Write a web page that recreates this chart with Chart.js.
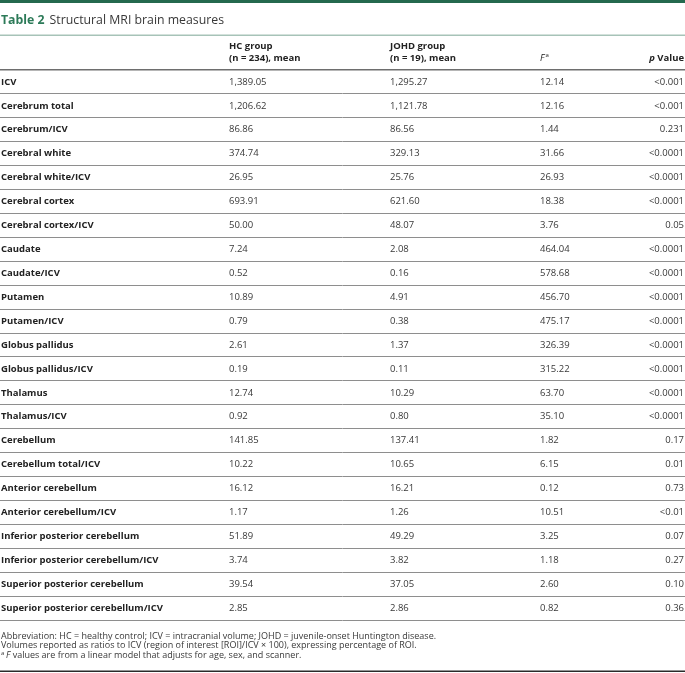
<!DOCTYPE html>
<html>
<head>
<meta charset="utf-8">
<title>Structural MRI brain measures</title>
<script src="https://cdn.jsdelivr.net/npm/chart.js@4.4.1/dist/chart.umd.min.js"></script>
<style>
  html, body { margin: 0; padding: 0; background: #fff; }
  canvas { display: block; }
</style>
</head>
<body>
<canvas id="tableChart" width="685" height="673"></canvas>
<script>
// table data
const rowLabels = [
    'ICV', 'Cerebrum total', 'Cerebrum/ICV', 'Cerebral white', 'Cerebral white/ICV',
    'Cerebral cortex', 'Cerebral cortex/ICV', 'Caudate', 'Caudate/ICV', 'Putamen',
    'Putamen/ICV', 'Globus pallidus', 'Globus pallidus/ICV', 'Thalamus', 'Thalamus/ICV',
    'Cerebellum', 'Cerebellum total/ICV', 'Anterior cerebellum', 'Anterior cerebellum/ICV',
    'Inferior posterior cerebellum', 'Inferior posterior cerebellum/ICV',
    'Superior posterior cerebellum', 'Superior posterior cerebellum/ICV'
];
const hcMean = [1389.05, 1206.62, 86.86, 374.74, 26.95, 693.91, 50.00, 7.24, 0.52, 10.89,
    0.79, 2.61, 0.19, 12.74, 0.92, 141.85, 10.22, 16.12, 1.17, 51.89, 3.74, 39.54, 2.85];
const johdMean = [1295.27, 1121.78, 86.56, 329.13, 25.76, 621.60, 48.07, 2.08, 0.16, 4.91,
    0.38, 1.37, 0.11, 10.29, 0.80, 137.41, 10.65, 16.21, 1.26, 49.29, 3.82, 37.05, 2.86];
const fValues = [12.14, 12.16, 1.44, 31.66, 26.93, 18.38, 3.76, 464.04, 578.68, 456.70,
    475.17, 326.39, 315.22, 63.70, 35.10, 1.82, 6.15, 0.12, 10.51, 3.25, 1.18, 2.60, 0.82];
const pValues = ['<0.001', '<0.001', '0.231', '<0.0001', '<0.0001', '<0.0001', '0.05',
    '<0.0001', '<0.0001', '<0.0001', '<0.0001', '<0.0001', '<0.0001', '<0.0001', '<0.0001',
    '0.17', '0.01', '0.73', '<0.01', '0.07', '0.27', '0.10', '0.36'];

// column anchors on the x scale (layout only)
const colX = { label: 1, hc: 229, johd: 390, f: 540, p: 684 };

const FONT = '"Open Sans", "DejaVu Sans", sans-serif';
const TEXT = '#383838';
const GREEN = '#2c7a58';

const fmt2 = v => v.toLocaleString('en-US', { minimumFractionDigits: 2, maximumFractionDigits: 2 });

function column(x, texts, opts) {
    return {
        data: texts.map((t, i) => ({ x: x, y: i })),
        texts: texts,
        cell: opts,
        pointRadius: 0,
        pointHoverRadius: 0
    };
}

const tablePlugin = {
    id: 'tableText',
    beforeDraw(chart) {
        const ctx = chart.ctx;
        ctx.save();
        ctx.fillStyle = '#fff';
        ctx.fillRect(0, 0, chart.width, chart.height);
        // top band + title
        ctx.fillStyle = '#24694e';
        ctx.fillRect(0, 0, chart.width, 3);
        ctx.textBaseline = 'middle';
        ctx.font = 'bold 12.3px ' + FONT;
        ctx.fillStyle = GREEN;
        ctx.fillText('Table 2', 1, 20);
        const w = ctx.measureText('Table 2').width;
        ctx.font = '12.3px ' + FONT;
        ctx.fillStyle = TEXT;
        ctx.fillText('Structural MRI brain measures', 1 + w + 5, 20);
        ctx.fillStyle = '#a7c3b8';
        ctx.fillRect(0, 34.5, chart.width, 1.5);
        ctx.restore();
    },
    afterDatasetsDraw(chart) {
        const ctx = chart.ctx;
        const x = chart.scales.x;
        ctx.save();
        ctx.textBaseline = 'middle';

        // header
        ctx.fillStyle = '#222';
        ctx.font = 'bold 9.5px ' + FONT;
        ctx.textAlign = 'left';
        ctx.fillText('HC group', x.getPixelForValue(colX.hc), 46);
        ctx.fillText('(n = 234), mean', x.getPixelForValue(colX.hc), 58);
        ctx.fillText('JOHD group', x.getPixelForValue(colX.johd), 46);
        ctx.fillText('(n = 19), mean', x.getPixelForValue(colX.johd), 58);
        ctx.font = 'italic 9.5px ' + FONT;
        ctx.fillText('F', x.getPixelForValue(colX.f), 58);
        const fw = ctx.measureText('F').width;
        ctx.font = '6px ' + FONT;
        ctx.fillText('a', x.getPixelForValue(colX.f) + fw + 1, 55);
        ctx.textAlign = 'right';
        ctx.font = 'bold 9.5px ' + FONT;
        ctx.fillText(' Value', x.getPixelForValue(colX.p), 58);
        const vw = ctx.measureText(' Value').width;
        ctx.font = 'italic bold 9.5px ' + FONT;
        ctx.fillText('p', x.getPixelForValue(colX.p) - vw, 58);

        // cells
        chart.data.datasets.forEach((ds, di) => {
            const meta = chart.getDatasetMeta(di);
            ctx.font = ds.cell.font;
            ctx.fillStyle = ds.cell.color;
            ctx.textAlign = ds.cell.align;
            meta.data.forEach((pt, i) => {
                ctx.fillText(ds.texts[i], pt.x, pt.y);
            });
        });

        // footnotes
        ctx.textAlign = 'left';
        ctx.fillStyle = TEXT;
        ctx.font = '9px ' + FONT;
        ctx.fillText('Abbreviation: HC = healthy control; ICV = intracranial volume; JOHD = juvenile-onset Huntington disease.', 1, 636);
        ctx.fillText('Volumes reported as ratios to ICV (region of interest [ROI]/ICV \u00d7 100), expressing percentage of ROI.', 1, 645.5);
        ctx.font = '6px ' + FONT;
        ctx.fillText('a', 1, 653);
        ctx.font = 'italic 9px ' + FONT;
        ctx.fillText('F', 6, 655);
        const fw2 = ctx.measureText('F ').width;
        ctx.font = '9px ' + FONT;
        ctx.fillText('values are from a linear model that adjusts for age, sex, and scanner.', 6 + fw2, 655);

        ctx.fillStyle = '#2a2a2a';
        ctx.fillRect(0, 670.5, chart.width, 1.5);
        ctx.restore();
    }
};

new Chart(document.getElementById('tableChart'), {
    type: 'scatter',
    data: {
        datasets: [
            column(colX.label, rowLabels, { font: 'bold 9.5px ' + FONT, color: '#222', align: 'left' }),
            column(colX.hc, hcMean.map(fmt2), { font: '9.5px ' + FONT, color: TEXT, align: 'left' }),
            column(colX.johd, johdMean.map(fmt2), { font: '9.5px ' + FONT, color: TEXT, align: 'left' }),
            column(colX.f, fValues.map(fmt2), { font: '9.5px ' + FONT, color: TEXT, align: 'left' }),
            column(colX.p, pValues, { font: '9.5px ' + FONT, color: TEXT, align: 'right' })
        ]
    },
    options: {
        responsive: false,
        animation: false,
        layout: { padding: { top: 70, bottom: 53, left: 0, right: 0 } },
        plugins: { legend: { display: false }, tooltip: { enabled: false } },
        scales: {
            x: { type: 'linear', min: 0, max: 685, display: false },
            y: {
                type: 'category',
                labels: rowLabels,
                offset: true,
                border: { display: false },
                ticks: { display: false },
                grid: {
                    offset: true,
                    drawTicks: false,
                    color: c => c.index === 0 ? '#6e6e6e' : (c.index === rowLabels.length ? '#b4b4b4' : '#8e8e8e'),
                    lineWidth: c => c.index === 0 ? 1.5 : (c.index === rowLabels.length ? 2 : 1)
                }
            }
        }
    },
    plugins: [tablePlugin]
});
</script>
</body>
</html>
